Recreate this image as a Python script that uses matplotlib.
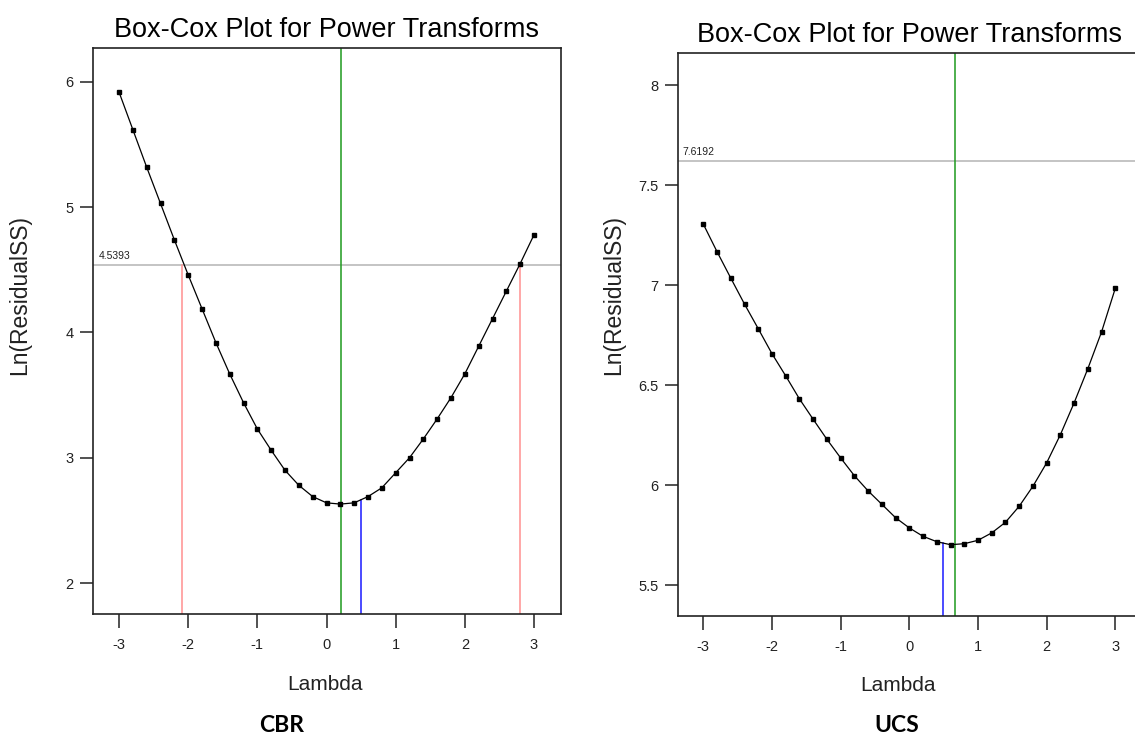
import numpy as np
import matplotlib
matplotlib.use("Agg")
import matplotlib.pyplot as plt

plt.rcParams['font.family'] = ['Liberation Sans', 'DejaVu Sans']

# ---------------- data ----------------
lambdas = [-3.0, -2.8, -2.6, -2.4, -2.2, -2.0, -1.8, -1.6, -1.4, -1.2, -1.0,
           -0.8, -0.6, -0.4, -0.2, 0.0, 0.2, 0.4, 0.6, 0.8, 1.0,
           1.2, 1.4, 1.6, 1.8, 2.0, 2.2, 2.4, 2.6, 2.8, 3.0]

cbr_ln_rss = [5.92, 5.62, 5.32, 5.03, 4.74, 4.46, 4.19, 3.92, 3.67, 3.44, 3.23,
              3.06, 2.90, 2.78, 2.69, 2.64, 2.63, 2.64, 2.69, 2.76, 2.88,
              3.00, 3.15, 3.31, 3.48, 3.67, 3.89, 4.11, 4.33, 4.55, 4.78]

ucs_ln_rss = [7.306, 7.168, 7.036, 6.906, 6.783, 6.658, 6.547, 6.432, 6.330, 6.230, 6.137,
              6.048, 5.972, 5.905, 5.838, 5.787, 5.745, 5.718, 5.703, 5.708, 5.725,
              5.762, 5.815, 5.895, 5.995, 6.112, 6.253, 6.412, 6.583, 6.767, 6.985]

cbr_best_lambda = 0.207
cbr_rounded_lambda = 0.5
cbr_ci = [-2.09, 2.80]
cbr_ci_level = 4.5393

ucs_best_lambda = 0.66
ucs_rounded_lambda = 0.485
ucs_ci_level = 7.6192

cbr_yticks = [2, 3, 4, 5, 6]
ucs_yticks = [5.5, 6, 6.5, 7, 7.5, 8]
ucs_ytick_labels = ['5.5', '6', '6.5', '7', '7.5', '8']
xticks = [-3, -2, -1, 0, 1, 2, 3]

title = "Box-Cox Plot for Power Transforms"

# ---------------- figure ----------------
W, H = 1135, 737
fig = plt.figure(figsize=(W / 100, H / 100), dpi=100)
fig.patch.set_facecolor('white')

def px_axes(l, t, r, b):
    return fig.add_axes([l / W, 1 - b / H, (r - l) / W, (b - t) / H])

ax1 = px_axes(93, 48.3, 560.7, 614)
ax2 = px_axes(677.7, 52.7, 1141.8, 616)

GREEN = '#1e9a1e'
RED = '#ff9090'
BLUE = '#1a1aff'
GRAY = '#c4c4c4'
TXT = '#222222'

def style(ax):
    for s in ax.spines.values():
        s.set_linewidth(1.2)
        s.set_color('#222222')
    ax.tick_params(direction='out', length=10, width=1.1, colors='#222222',
                   labelcolor=TXT, labelsize=10.5)
    ax.tick_params(axis='x', pad=7)
    ax.tick_params(axis='y', length=9.5, pad=4.5)
    ax.set_xticks(xticks)
    ax.set_xticklabels([str(v) for v in xticks])

def draw(ax, y, best, rounded, level, ci=None):
    ax.axhline(level, color=GRAY, lw=1.4, zorder=1)
    ax.axvline(best, color=GREEN, lw=1.1, zorder=1)
    y0 = ax.get_ylim()[0]
    top_blue = float(np.interp(rounded, lambdas, y))
    ax.plot([rounded, rounded], [y0, top_blue], color=BLUE, lw=1.1, zorder=1)
    if ci is not None:
        for c in ci:
            ax.plot([c, c], [y0, level], color=RED, lw=1.1, zorder=1)
    ax.plot(lambdas, y, color='black', lw=0.9, marker='s', markersize=2.4,
            markerfacecolor='black', markeredgecolor='black', zorder=3)

# left panel (CBR)
ax1.set_xlim(-3.376, 3.386)
ax1.set_ylim(1.7525, 6.269)
style(ax1)
ax1.set_yticks(cbr_yticks)
ax1.set_yticklabels([str(v) for v in cbr_yticks])
draw(ax1, cbr_ln_rss, cbr_best_lambda, cbr_rounded_lambda, cbr_ci_level, cbr_ci)
ax1.text(-3.30, cbr_ci_level + 0.03, "4.5393", fontsize=7.5, color=TXT,
         ha='left', va='bottom')

# right panel (UCS)
ax2.set_xlim(-3.373, 3.386)
ax2.set_ylim(5.3465, 8.163)
style(ax2)
ax2.set_yticks(ucs_yticks)
ax2.set_yticklabels(ucs_ytick_labels)
ax2.spines['right'].set_visible(False)
draw(ax2, ucs_ln_rss, ucs_best_lambda, ucs_rounded_lambda, ucs_ci_level)
ax2.text(-3.30, ucs_ci_level + 0.02, "7.6192", fontsize=7.5, color=TXT,
         ha='left', va='bottom')

for ax, ylx, yly, xlx in [(ax1, -0.156, 0.564, 0.496), (ax2, -0.139, 0.570, 0.474)]:
    ax.set_title(title, fontsize=19.5, color='black', pad=8)
    ax.set_ylabel("Ln(ResidualSS)", fontsize=16.5, color=TXT, va='center')
    ax.yaxis.set_label_coords(ylx, yly)
    ax.set_xlabel("Lambda", fontsize=15, color=TXT, va='center')
    ax.xaxis.set_label_coords(xlx, -0.124)

fig.text(282 / W, 1 - 726 / H, "CBR", fontsize=16.5, fontweight='bold',
         family=['Lato', 'DejaVu Sans'], ha='center', va='center', color='black')
fig.text(897 / W, 1 - 726 / H, "UCS", fontsize=16.5, fontweight='bold',
         family=['Lato', 'DejaVu Sans'], ha='center', va='center', color='black')

fig.savefig('out.png', dpi=100, facecolor='white')
